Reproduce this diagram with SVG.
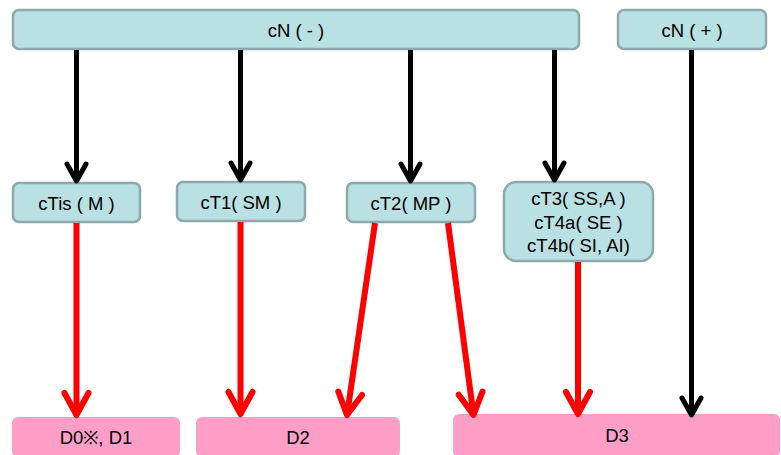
<svg xmlns="http://www.w3.org/2000/svg" width="781" height="455" viewBox="0 0 781 455">
  <style>
    .stage { fill: #b9e0e3; stroke: #8ea9ab; stroke-width: 2.5; }
    .group { fill: #ff9fc8; stroke: none; }
    text { font-family: "Liberation Sans", Arial, sans-serif; font-size: 18.5px; fill: #000; text-anchor: middle; }
    .blk { stroke: #000; stroke-width: 5; fill: none; marker-end: url(#headBlack); }
    .red { stroke: #ff0000; stroke-width: 6; fill: none; marker-end: url(#headRed); }
  </style>
  <defs>
    <marker id="headBlack" markerUnits="userSpaceOnUse" orient="auto" markerWidth="40" markerHeight="40" refX="0" refY="0" viewBox="-25 -20 40 40" overflow="visible">
      <path d="M -17,-9.5 L 0,0 L -17,9.5" fill="none" stroke="#000" stroke-width="5" stroke-linecap="round" stroke-linejoin="round"/>
    </marker>
    <marker id="headRed" markerUnits="userSpaceOnUse" orient="auto" markerWidth="40" markerHeight="40" refX="0" refY="0" viewBox="-25 -20 40 40" overflow="visible">
      <path d="M -22,-12 L 0,0 L -22,12" fill="none" stroke="#ff0000" stroke-width="6" stroke-linecap="round" stroke-linejoin="round"/>
    </marker>
  </defs>

  <!-- nodal status -->
  <g id="cN-neg">
    <rect class="stage" x="13" y="10" width="566" height="39" rx="6"/>
    <text x="296" y="37">cN ( - )</text>
  </g>
  <g id="cN-pos">
    <rect class="stage" x="618" y="10" width="148" height="39" rx="6"/>
    <text x="692" y="37">cN ( + )</text>
  </g>

  <!-- tumour categories -->
  <g id="cTis">
    <rect class="stage" x="13" y="183" width="127" height="39" rx="6"/>
    <text x="76.5" y="210">cTis ( M )</text>
  </g>
  <g id="cT1">
    <rect class="stage" x="177" y="182" width="128" height="39" rx="6"/>
    <text x="241" y="209">cT1( SM )</text>
  </g>
  <g id="cT2">
    <rect class="stage" x="347" y="183" width="128" height="39" rx="6"/>
    <text x="411" y="210">cT2( MP )</text>
  </g>
  <g id="cT3-4">
    <rect class="stage" x="504" y="182" width="149" height="79" rx="12"/>
    <text x="578.5" y="205">cT3( SS,A )</text>
    <text x="578.5" y="228.5">cT4a( SE )</text>
    <text x="578.5" y="252">cT4b( SI, AI)</text>
  </g>

  <!-- outcome groups -->
  <g id="D0-D1">
    <rect class="group" x="12" y="417" width="168" height="40" rx="6"/>
    <text x="96" y="444">D0※, D1</text>
  </g>
  <g id="D2">
    <rect class="group" x="196" y="417" width="204" height="40" rx="6"/>
    <text x="298" y="444">D2</text>
  </g>
  <g id="D3">
    <rect class="group" x="453" y="414" width="327" height="43" rx="6"/>
    <text x="617" y="442">D3</text>
  </g>

  <!-- connectors -->
  <g id="connectors">
    <line class="blk" x1="76.5" y1="50" x2="76.5" y2="181"/>
    <line class="blk" x1="240.5" y1="50" x2="240.5" y2="180"/>
    <line class="blk" x1="410.5" y1="50" x2="410.5" y2="181"/>
    <line class="blk" x1="554.5" y1="50" x2="554.5" y2="180"/>
    <line class="blk" x1="691.5" y1="50" x2="691.5" y2="415"/>

    <line class="red" x1="76.5" y1="223" x2="76.5" y2="415"/>
    <line class="red" x1="240.5" y1="222" x2="240.5" y2="414"/>
    <line class="red" x1="375" y1="223" x2="347" y2="415"/>
    <line class="red" x1="448" y1="223" x2="473.5" y2="415"/>
    <line class="red" x1="578" y1="262" x2="578" y2="414"/>
  </g>
</svg>
